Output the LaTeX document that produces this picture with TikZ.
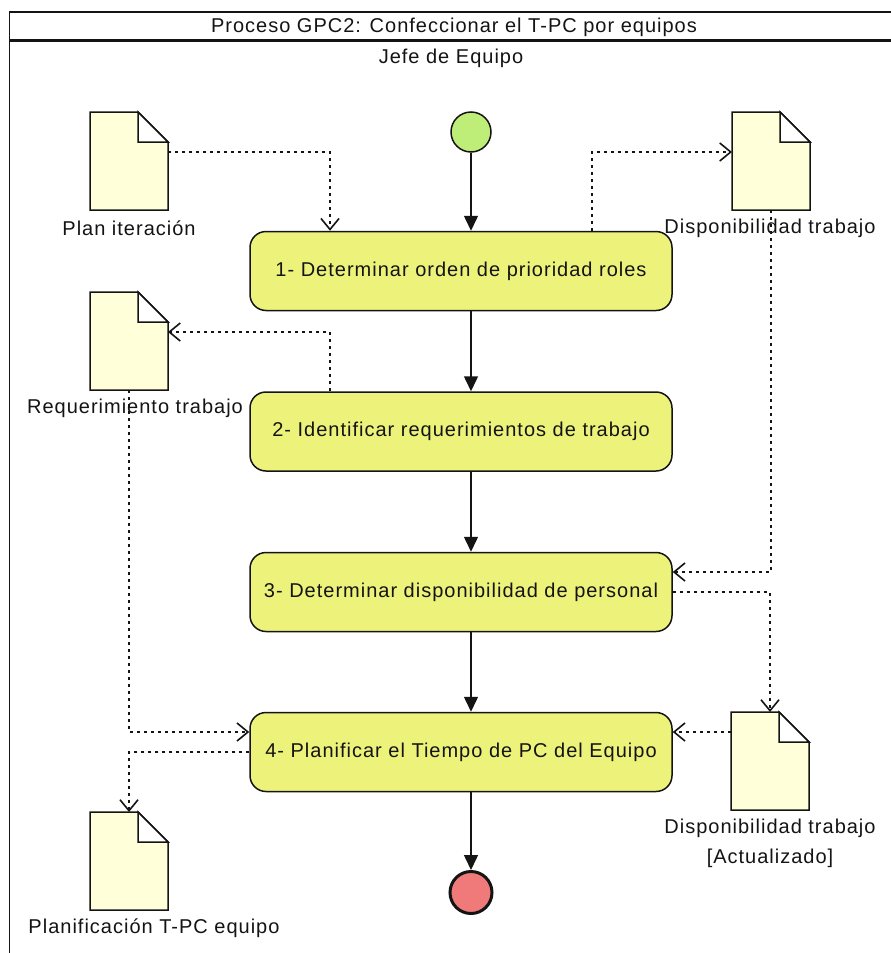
\documentclass[tikz,border=0pt]{standalone}
\usepackage{fontspec}
\setmainfont{Liberation Sans}[LetterSpace=5]
\usetikzlibrary{arrows.meta}
\definecolor{actfill}{RGB}{237,243,122}
\definecolor{docfill}{RGB}{255,255,218}
\definecolor{startfill}{RGB}{190,238,120}
\definecolor{endfill}{RGB}{240,122,122}
\definecolor{ink}{RGB}{20,20,20}

\tikzset{
  lbl/.style={font=\fontsize{20}{24}\selectfont, inner sep=0pt, text=ink},
  act/.style={lbl, draw=ink, line width=1.5pt, fill=actfill, rounded corners=16pt,
    minimum width=422pt, minimum height=79pt},
  docbox/.style={minimum width=78pt, minimum height=98pt, inner sep=0pt, outer sep=0pt},
  docline/.style={draw=ink, line width=1.5pt, fill=docfill, line join=miter},
  flow/.style={draw=ink, line width=1.5pt, -{Triangle[length=15pt,width=14pt]}},
  dep/.style={draw=ink, line width=1.6pt, dash pattern=on 3pt off 4pt,
    -{Straight Barb[length=11pt,width=18pt,line width=1.6pt]}},
  initial/.style={circle, draw=ink, line width=1.5pt, fill=startfill, minimum size=40pt, inner sep=0pt},
  final/.style={circle, draw=ink, line width=3pt, fill=endfill, minimum size=42pt, inner sep=0pt},
}

% document (note) symbol drawn on top of an invisible box node
\newcommand\docshape[1]{%
  \path[docline] (#1.north west) -- ([xshift=-30pt]#1.north east)
    -- ([yshift=-30pt]#1.north east) -- (#1.south east) -- (#1.south west) -- cycle;
  \path[draw=ink, line width=1.5pt, fill=white, line join=miter]
    ([xshift=-30pt]#1.north east) -- ([yshift=-30pt]#1.north east)
    -- ([xshift=-30pt,yshift=-30pt]#1.north east) -- cycle;}

\begin{document}
\begin{tikzpicture}[x=1pt, y=-1pt]
  \useasboundingbox[fill=white] (0,0) rectangle (891,953);

  % frame with title row
  \draw[ink, line width=1.5pt] (891,12) -- (9.5,12) -- (9.5,953);
  \draw[ink, line width=3pt] (9.5,40.5) -- (891,40.5);
  \node[lbl] (title) at (454,27) {Proceso GPC2: Confeccionar el T-PC por equipos};
  \node[lbl] (lane) at (451,58) {Jefe de Equipo};

  % initial and final nodes
  \node[initial] (ini) at (471,132) {};
  \node[final] (fin) at (471,892.5) {};

  % actions
  \node[act] (a1) at (461,271) {1- Determinar orden de prioridad roles};
  \node[act] (a2) at (461,431.5) {2- Identificar requerimientos de trabajo};
  \node[act] (a3) at (461,592) {3- Determinar disponibilidad de personal};
  \node[act] (a4) at (461,752) {4- Planificar el Tiempo de PC del Equipo};

  % documents
  \node[docbox] (plan) at (129,161) {};
  \node[docbox] (disp) at (771,161) {};
  \node[docbox] (req) at (129,341) {};
  \node[docbox] (dispact) at (770,761) {};
  \node[docbox] (planif) at (129,861) {};

  % dependency connectors
  \draw[dep] ([yshift=9pt]plan.east) -| ([xshift=-131pt]a1.north);
  \draw[dep] ([xshift=131pt]a1.north) |- ([yshift=9pt]disp.west);
  \draw[dep] ([xshift=-131pt]a2.north) |- ([yshift=9pt]req.east);
  \draw[dep] (req.south) |- ([yshift=20pt]a4.west);
  \draw[dep] (a4.west) -| (planif.north);
  \draw[dep] (disp.south) |- ([yshift=20pt]a3.east);
  \draw[dep] (a3.east) -| (dispact.north);
  \draw[dep] ([yshift=29pt]dispact.west) -- ([yshift=20pt]a4.east);

  \docshape{plan}
  \docshape{disp}
  \docshape{req}
  \docshape{dispact}
  \docshape{planif}

  % document labels
  \node[lbl] (planlbl) at (129,228) {Plan iteración};
  \node[lbl] (displbl) at (770,228) {Disponibilidad trabajo};
  \node[lbl] (reqlbl) at (135,408) {Requerimiento trabajo};
  \node[lbl, align=center, font=\fontsize{20}{30}\selectfont] (dispactlbl) at (770,843)
    {Disponibilidad trabajo\\{}[Actualizado]};
  \node[lbl] (planiflbl) at (154,928) {Planificación T-PC equipo};

  % control flow
  \draw[flow] (ini) -- (ini |- a1.north);
  \draw[flow] (a1.south -| ini) -- (a2.north -| ini);
  \draw[flow] (a2.south -| ini) -- (a3.north -| ini);
  \draw[flow] (a3.south -| ini) -- (a4.north -| ini);
  \draw[flow] (a4.south -| fin) -- (fin);
\end{tikzpicture}
\end{document}
